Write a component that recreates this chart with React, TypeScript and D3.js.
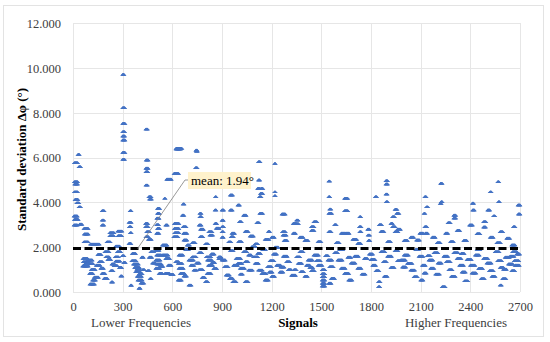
import React, { useRef, useEffect } from "react";
import * as d3 from "d3";

// runs of consecutive signals sharing (roughly) the same std deviation: [firstSignal, count, value]
const lowerRuns: [number, number, number][] = [
  [8, 22, 5.77], [30, 10, 6.14], [36, 12, 5.59], [8, 22, 4.92], [10, 20, 4.82], [8, 22, 4.47], [12, 20, 4.13],
  [22, 15, 3.98], [36, 12, 3.8], [6, 22, 3.39], [8, 25, 3.24], [6, 22, 2.99], [40, 15, 3.03], [66, 28, 2.84],
  [68, 26, 2.59], [66, 28, 2.24], [105, 55, 2.14], [176, 14, 3.63], [176, 12, 3.21], [176, 12, 2.99],
  [222, 28, 2.65], [222, 26, 2.51], [270, 28, 2.72], [272, 24, 2.51], [205, 22, 2.24], [258, 26, 2.05],
  [345, 8, 3.63], [338, 16, 3.11], [340, 12, 2.91], [346, 8, 2.65], [338, 14, 2.17], [300, 10, 9.71],
  [300, 14, 8.22], [300, 16, 7.52], [300, 14, 7.15], [300, 14, 6.96], [300, 16, 6.78], [300, 16, 6.23],
  [300, 14, 5.92],
  [60, 30, 1.5], [62, 32, 1.35], [58, 35, 1.16], [88, 30, 1.43], [95, 28, 1.27], [110, 25, 1.01], [100, 22, 0.83],
  [102, 30, 0.36], [128, 28, 0.66], [118, 20, 0.54], [150, 22, 1.68], [158, 22, 1.35], [168, 18, 1.06],
  [175, 20, 0.83], [188, 22, 0.61], [192, 28, 1.8], [198, 22, 1.57], [255, 22, 1.57], [258, 28, 1.38],
  [248, 22, 1.17], [268, 22, 1.8], [235, 18, 1.25], [228, 16, 0.95], [280, 15, 1.1], [232, 10, 0.45],
  [298, 12, 1.62], [306, 12, 1.32], [288, 10, 0.72], [70, 20, 1.24], [140, 25, 1.2], [210, 20, 1.45],
  [355, 28, 1.4], [365, 32, 1.25], [372, 32, 1.1], [378, 30, 0.91], [388, 28, 0.71], [392, 28, 0.54],
  [398, 10, 0.17], [348, 8, 0.3], [358, 22, 1.72], [420, 14, 1.0], [410, 20, 0.4], [415, 12, 1.55],
  [400, 20, 0.82], [385, 20, 1.02],
  [440, 12, 7.27], [442, 14, 5.89], [440, 16, 5.52], [440, 14, 5.37], [440, 12, 4.77], [458, 16, 4.25],
  [462, 14, 4.15], [438, 16, 3.06], [438, 18, 2.91], [445, 20, 2.69], [440, 18, 2.47], [455, 20, 2.35],
  [510, 16, 3.73], [510, 14, 3.51], [506, 16, 3.29], [505, 14, 3.0], [510, 16, 2.84], [505, 16, 2.62],
  [553, 6, 4.18], [560, 12, 2.99], [566, 30, 5.03], [610, 30, 5.29], [612, 30, 3.06], [612, 30, 2.84],
  [614, 28, 2.65], [608, 28, 2.47], [622, 38, 6.41], [622, 30, 6.38], [665, 8, 3.93], [660, 12, 3.43],
  [665, 20, 2.91], [668, 22, 2.62], [670, 20, 2.32], [742, 10, 6.33], [745, 8, 6.28], [740, 12, 5.55],
  [766, 10, 3.51], [766, 12, 3.36], [762, 14, 2.99], [770, 20, 2.8], [768, 18, 2.47], [820, 22, 2.69],
  [826, 20, 2.54], [860, 6, 4.25], [858, 8, 3.66], [858, 12, 3.06], [865, 20, 2.85], [720, 20, 2.2],
  [690, 15, 2.1], [800, 18, 2.15],
  [500, 22, 1.87], [505, 30, 1.65], [500, 28, 1.43], [506, 30, 1.25], [500, 26, 1.06], [520, 22, 0.83],
  [540, 30, 2.1], [540, 35, 1.65], [555, 30, 0.83], [560, 25, 1.5], [575, 20, 1.2], [590, 18, 0.78],
  [470, 20, 1.8], [460, 18, 1.55], [480, 20, 1.3], [450, 14, 0.95], [465, 10, 0.6], [640, 25, 1.65],
  [635, 25, 1.28], [640, 28, 1.06], [648, 28, 0.83], [635, 22, 0.54], [700, 15, 0.31], [700, 30, 1.43],
  [720, 25, 1.57], [712, 20, 1.2], [730, 18, 0.98], [800, 15, 0.46], [805, 30, 1.57], [812, 28, 1.43],
  [818, 28, 1.2], [810, 25, 0.83], [835, 20, 1.7], [760, 20, 1.75], [760, 25, 1.0], [780, 18, 0.65],
  [850, 20, 1.05], [680, 20, 1.9], [880, 20, 1.5], [525, 20, 1.15], [620, 20, 1.35], [745, 20, 1.3],
  [670, 18, 0.72], [840, 18, 1.32],
];

const middleRuns: [number, number, number][] = [
  [1120, 12, 5.81], [1218, 6, 5.74], [1120, 10, 5.0], [1115, 14, 4.62], [1135, 14, 4.62], [1132, 16, 4.4],
  [1126, 12, 4.25], [1218, 6, 4.47], [1218, 6, 4.3], [950, 16, 4.33], [996, 12, 3.88], [950, 14, 3.66],
  [1030, 18, 3.43], [1005, 14, 3.14], [1128, 20, 3.51], [1110, 16, 3.09], [1262, 22, 3.48], [1265, 20, 2.69],
  [1268, 22, 2.54], [1275, 20, 2.3], [960, 18, 2.62], [955, 16, 2.47], [940, 16, 2.24], [900, 12, 3.66],
  [900, 10, 3.2], [900, 12, 2.91], [900, 10, 2.69], [900, 10, 2.45], [1040, 20, 2.7], [1070, 22, 2.5],
  [1180, 10, 2.7], [1200, 18, 2.45], [1160, 25, 2.35], [1100, 18, 2.15], [1000, 20, 2.25], [1330, 20, 3.06],
  [880, 16, 1.57], [900, 22, 1.43], [915, 24, 1.13], [925, 22, 0.76], [945, 22, 0.61], [965, 22, 0.46],
  [985, 30, 1.5], [995, 28, 1.28], [1010, 28, 1.06], [1040, 20, 0.46], [1060, 25, 0.98], [1080, 25, 2.02],
  [1090, 28, 1.57], [1100, 22, 1.28], [1120, 26, 0.98], [1140, 28, 0.83], [1160, 22, 0.54], [1175, 25, 1.13],
  [1190, 25, 1.4], [1210, 22, 1.7], [1230, 25, 1.2], [1250, 20, 0.9], [1270, 25, 1.6], [1290, 22, 1.35],
  [1300, 20, 1.0], [1320, 25, 0.75], [950, 20, 1.85], [970, 25, 1.2], [1030, 22, 1.8], [1060, 18, 1.65],
  [1145, 20, 1.9], [1200, 20, 0.7], [1220, 22, 2.0], [1040, 20, 1.35], [1010, 15, 0.8], [1115, 20, 1.72],
  [1255, 22, 1.12], [1185, 20, 0.9],
  [1545, 8, 4.95], [1545, 8, 4.25], [1640, 22, 4.18], [1640, 22, 3.63], [1545, 20, 3.51], [1550, 10, 3.7],
  [1732, 8, 3.36], [1730, 12, 2.91], [1732, 10, 2.69], [1350, 12, 3.21], [1350, 14, 3.05], [1455, 20, 3.14],
  [1440, 18, 2.91], [1440, 18, 2.75], [1330, 16, 2.62], [1370, 22, 2.45], [1545, 16, 2.69], [1620, 28, 2.62],
  [1650, 20, 2.62], [1720, 20, 2.17], [1400, 22, 2.3], [1480, 20, 2.25], [1590, 20, 2.2], [1690, 25, 2.35],
  [1580, 12, 3.0],
  [1505, 18, 0.68], [1505, 18, 0.54], [1505, 18, 0.39], [1505, 18, 0.27], [1505, 18, 0.82], [1505, 18, 1.0],
  [1370, 22, 1.8], [1350, 22, 1.57], [1360, 24, 1.28], [1375, 20, 0.91], [1420, 28, 1.43], [1410, 22, 1.2],
  [1455, 30, 1.65], [1470, 25, 1.4], [1480, 25, 1.2], [1540, 26, 1.43], [1550, 24, 1.13], [1560, 22, 0.61],
  [1545, 15, 0.39], [1600, 28, 1.43], [1620, 25, 1.06], [1640, 28, 0.83], [1665, 22, 0.54], [1680, 25, 1.3],
  [1700, 25, 1.6], [1720, 22, 1.06], [1745, 22, 0.8], [1760, 20, 1.5], [1580, 20, 1.75], [1440, 20, 0.95],
  [1400, 18, 0.7], [1610, 22, 1.9], [1335, 15, 1.0], [1430, 20, 1.1], [1525, 18, 1.62], [1660, 20, 1.55],
];

const higherRuns: [number, number, number][] = [
  [1890, 12, 4.97], [1890, 12, 4.82], [1890, 10, 4.37], [1892, 10, 4.03], [1826, 10, 4.25], [1945, 14, 3.69],
  [1955, 16, 3.51], [1930, 14, 3.36], [1920, 12, 3.06], [1930, 18, 2.91], [1945, 20, 2.69], [1960, 20, 2.8],
  [1780, 12, 2.8], [1782, 12, 2.54], [1785, 10, 2.3], [1850, 15, 3.0], [1860, 20, 2.7], [2125, 10, 4.25],
  [2135, 10, 3.8], [2120, 8, 3.51], [2125, 14, 2.91], [2128, 16, 2.62], [2095, 22, 2.62], [2075, 20, 2.32],
  [2220, 6, 4.85], [2218, 8, 3.95], [2000, 22, 2.3], [2040, 20, 2.45], [2170, 20, 2.45], [2200, 20, 2.2],
  [1900, 20, 2.25],
  [1845, 12, 0.46], [1845, 10, 0.24], [1790, 22, 1.7], [1800, 25, 1.45], [1810, 20, 1.2], [1830, 20, 0.95],
  [1860, 25, 1.8], [1875, 20, 1.35], [1900, 25, 1.6], [1920, 22, 1.1], [1945, 20, 1.85], [1960, 25, 1.4],
  [1980, 30, 1.43], [2000, 28, 1.65], [2020, 30, 1.28], [2040, 25, 0.98], [2060, 22, 0.68], [2090, 25, 1.6],
  [2110, 20, 1.2], [2120, 15, 0.85], [2150, 25, 1.43], [2160, 22, 1.06], [2100, 15, 0.54], [2180, 25, 1.75],
  [2190, 25, 0.8], [2205, 22, 1.3], [2070, 20, 1.9], [1880, 20, 0.7], [1990, 22, 1.12], [2140, 20, 1.62],
  [2224, 8, 4.85], [2224, 8, 4.03], [2566, 8, 4.92], [2520, 8, 4.47], [2570, 8, 4.03], [2412, 10, 3.96],
  [2414, 12, 3.66], [2688, 14, 3.88], [2690, 12, 3.48], [2300, 14, 3.43], [2300, 14, 3.3], [2505, 14, 3.66],
  [2540, 10, 3.4], [2480, 16, 3.14], [2660, 12, 2.91], [2265, 16, 3.09], [2395, 20, 2.99], [2480, 14, 2.9],
  [2580, 18, 2.69], [2250, 16, 2.62], [2320, 18, 2.75], [2440, 20, 2.6], [2520, 20, 2.45], [2620, 20, 2.4],
  [2360, 20, 2.3], [2560, 24, 2.2], [2650, 22, 2.1], [2280, 20, 2.25],
  [2230, 20, 0.24], [2580, 10, 0.31], [2240, 25, 1.6], [2255, 25, 1.35], [2270, 22, 1.0], [2285, 25, 0.7],
  [2300, 28, 1.75], [2320, 25, 1.5], [2335, 25, 1.2], [2350, 22, 0.9], [2365, 22, 0.5], [2380, 28, 1.45],
  [2400, 30, 1.2], [2410, 25, 0.85], [2430, 25, 1.65], [2450, 25, 1.05], [2465, 22, 0.6], [2480, 28, 1.5],
  [2500, 28, 1.3], [2515, 25, 0.95], [2530, 22, 0.7], [2550, 25, 1.8], [2565, 25, 1.4], [2580, 22, 1.1],
  [2595, 22, 0.6], [2610, 28, 1.55], [2630, 28, 1.25], [2640, 25, 1.6], [2655, 28, 1.8], [2665, 30, 1.4],
  [2670, 28, 1.2], [2650, 20, 0.95], [2680, 20, 1.7], [2440, 20, 1.9], [2345, 20, 1.72], [2600, 20, 1.02],
];

const meanValue = 1.94;
const xTicks = [0, 300, 600, 900, 1200, 1500, 1800, 2100, 2400, 2700];
const yTicks = [0, 2, 4, 6, 8, 10, 12];

export default function App() {
  const svgRef = useRef<SVGSVGElement>(null);

  useEffect(() => {
    const width = 550;
    const height = 342;
    const left = 73;
    const right = 520;
    const top = 23;
    const bottom = 292;
    const font = "'Liberation Serif', 'Times New Roman', serif";

    const svg = d3.select(svgRef.current);
    svg.selectAll("*").remove();

    svg.append("rect")
      .attr("x", 0).attr("y", 0).attr("width", width).attr("height", height)
      .attr("fill", "#fff");
    svg.append("rect")
      .attr("x", 3.5).attr("y", 5.5).attr("width", 540).attr("height", 331)
      .attr("fill", "none").attr("stroke", "#e3e3e3");

    const x = d3.scaleLinear().domain([0, 2700]).range([left, right]);
    const y = d3.scaleLinear().domain([0, 12]).range([bottom, top]);

    // grid
    const grid = svg.append("g").attr("stroke", "#e6e6e6").attr("stroke-width", 1);
    grid.selectAll("line.h").data(yTicks).join("line")
      .attr("class", "h")
      .attr("x1", left).attr("x2", right)
      .attr("y1", d => Math.round(y(d)) + 0.5).attr("y2", d => Math.round(y(d)) + 0.5);
    grid.selectAll("line.v").data(xTicks).join("line")
      .attr("class", "v")
      .attr("y1", top).attr("y2", bottom)
      .attr("x1", d => Math.round(x(d)) + 0.5).attr("x2", d => Math.round(x(d)) + 0.5);

    // axes (labels only, Excel style)
    const yAxis = svg.append("g")
      .attr("transform", `translate(${left - 9},0)`)
      .call(d3.axisLeft(y).tickValues(yTicks).tickFormat(d3.format(".3f")).tickSize(0));
    yAxis.select(".domain").remove();
    yAxis.selectAll("text").attr("font-family", font).attr("font-size", 12.5).attr("fill", "#404040").attr("dy", "0.35em");

    const xAxis = svg.append("g")
      .attr("transform", `translate(0,${bottom + 7})`)
      .call(d3.axisBottom(x).tickValues(xTicks).tickFormat(d3.format("d")).tickSize(0));
    xAxis.select(".domain").remove();
    xAxis.selectAll("text").attr("font-family", font).attr("font-size", 12.5).attr("fill", "#404040");

    // points
    const points: [number, number][] = [];
    for (const [s, n, v] of [...lowerRuns, ...middleRuns, ...higherRuns]) {
      for (let i = 0; i < n; i += 2) points.push([s + i, v]);
    }
    svg.append("g")
      .attr("fill", "#4472C4")
      .selectAll("path")
      .data(points)
      .join("path")
      .attr("d", "M-2.5,1.3L2.5,1.3L0,-1.4Z")
      .attr("transform", d => `translate(${x(d[0])},${y(d[1])})`);

    // mean line
    svg.append("line")
      .attr("x1", left).attr("x2", right)
      .attr("y1", y(meanValue)).attr("y2", y(meanValue))
      .attr("stroke", "#000").attr("stroke-width", 3)
      .attr("stroke-dasharray", "8 3.5");

    // annotation
    svg.append("polyline")
      .attr("points", `${x(390)},${y(meanValue)} 185,180 188,180`)
      .attr("fill", "none").attr("stroke", "#7f7f7f").attr("stroke-width", 0.8);
    svg.append("rect")
      .attr("x", 188).attr("y", 172).attr("width", 63).attr("height", 17)
      .attr("fill", "#FFF2CC");
    svg.append("text")
      .attr("x", 191).attr("y", 185)
      .attr("font-family", font).attr("font-size", 13).attr("fill", "#000")
      .text("mean: 1.94°");

    // titles
    svg.append("text")
      .attr("transform", `translate(26,${(top + bottom) / 2 + 2}) rotate(-90)`)
      .attr("text-anchor", "middle")
      .attr("font-family", font).attr("font-size", 13).attr("font-weight", "bold").attr("fill", "#000")
      .text("Standard deviation Δφ (°)");
    svg.append("text")
      .attr("x", 141).attr("y", 327).attr("text-anchor", "middle")
      .attr("font-family", font).attr("font-size", 13).attr("fill", "#404040")
      .text("Lower Frequencies");
    svg.append("text")
      .attr("x", 298).attr("y", 327).attr("text-anchor", "middle")
      .attr("font-family", font).attr("font-size", 13).attr("font-weight", "bold").attr("fill", "#000")
      .text("Signals");
    svg.append("text")
      .attr("x", 456).attr("y", 327).attr("text-anchor", "middle")
      .attr("font-family", font).attr("font-size", 13).attr("fill", "#404040")
      .text("Higher Frequencies");
  }, []);

  return (
    <svg ref={svgRef} width={550} height={342}
      style={{ position: "absolute", left: 0, top: 0, display: "block" }} />
  );
}
